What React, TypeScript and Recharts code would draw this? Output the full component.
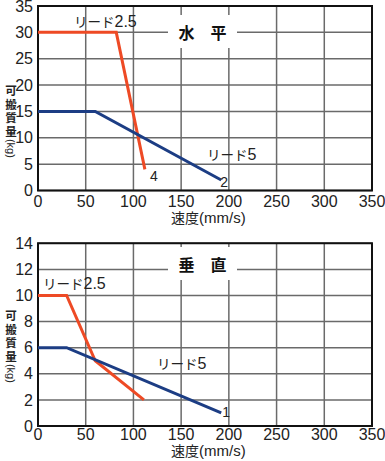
import React from 'react';
import { LineChart, Line, XAxis, YAxis, CartesianGrid, ReferenceArea } from 'recharts';

// ---- data ----
const speedTicks = [0, 50, 100, 150, 200, 250, 300, 350];
const horizontalMassTicks = [0, 5, 10, 15, 20, 25, 30, 35];
const verticalMassTicks = [0, 2, 4, 6, 8, 10, 12, 14];

const hLead25Speed = [0, 82, 112];
const hLead25Mass = [30, 30, 4];
const hLead5Speed = [0, 60, 192];
const hLead5Mass = [15, 15, 2];

const vLead25Speed = [0, 30, 60, 111];
const vLead25Mass = [10, 10, 5, 2];
const vLead5Speed = [0, 30, 192];
const vLead5Mass = [6, 6, 1];

const yLabelChars = ['可', '搬', '質', '量'];

const ORANGE = '#ee4a25';
const BLUE = '#1c3d84';
const GRID = '#6a6a6a';
const NUM_FONT = "'Liberation Sans Narrow', 'Liberation Sans', Arial, sans-serif";
const JP_FONT = "'Noto Sans CJK JP', 'Noto Sans', sans-serif";

const zip = (xs: number[], ys: number[]) => xs.map((x, i) => ({ speed: x, mass: ys[i] }));

type Series = {
  name: string;
  speed: number[];
  mass: number[];
  color: string;
  endLabel?: { dx: number; dy: number };
};

const endLabelRenderer = (count: number, off?: { dx: number; dy: number }) => (p: any) => {
  if (!off || p.index !== count - 1) return <g key={`l${p.index}`} />;
  return (
    <text
      key={`l${p.index}`}
      x={p.x + off.dx}
      y={p.y + off.dy}
      fontSize={14}
      fontFamily={NUM_FONT}
      fill="#222"
      dominantBaseline="central"
    >
      {p.value}
    </text>
  );
};

type PanelProps = {
  top: number;
  height: number;
  plotTop: number;
  xAxisHeight: number;
  xTickMargin: number;
  yMax: number;
  yTicks: number[];
  series: Series[];
};

function Panel({ top, height, plotTop, xAxisHeight, xTickMargin, yMax, yTicks, series }: PanelProps) {
  return (
    <div style={{ position: 'absolute', left: 0, top, width: 385, height }}>
      <LineChart width={385} height={height} margin={{ top: plotTop, right: 13, left: 0, bottom: 0 }}>
        <CartesianGrid stroke={GRID} strokeWidth={1.5} />
        <XAxis
          type="number"
          dataKey="speed"
          domain={[0, 350]}
          ticks={speedTicks}
          interval={0}
          height={xAxisHeight}
          tickSize={0}
          tickMargin={xTickMargin}
          axisLine={false}
          tick={{ fontSize: 16, fill: '#222', fontFamily: NUM_FONT }}
        />
        <YAxis
          type="number"
          domain={[0, yMax]}
          ticks={yTicks}
          interval={0}
          width={38}
          tickSize={0}
          tickMargin={5}
          axisLine={false}
          tick={{ fontSize: 16, fill: '#222', fontFamily: NUM_FONT }}
        />
        <ReferenceArea x1={0} x2={350} y1={0} y2={yMax} fill="none" stroke="#111" strokeWidth={2} />
        {series.map((s) => (
          <Line
            key={s.name}
            data={zip(s.speed, s.mass)}
            dataKey="mass"
            stroke={s.color}
            strokeWidth={3}
            dot={false}
            isAnimationActive={false}
            label={endLabelRenderer(s.speed.length, s.endLabel)}
          />
        ))}
      </LineChart>
    </div>
  );
}

const abs = (left: number, top: number, extra: React.CSSProperties = {}): React.CSSProperties => ({
  position: 'absolute',
  left,
  top,
  whiteSpace: 'nowrap',
  lineHeight: 1,
  color: '#222',
  ...extra,
});

const Y_STEP = 13.6;

function YLabel({ top }: { top: number }) {
  return (
    <svg style={{ position: 'absolute', left: 0, top, overflow: 'visible' }} width={24} height={80}>
      {yLabelChars.map((c, i) => (
        <text
          key={c}
          x={11}
          y={6 + i * Y_STEP}
          textAnchor="middle"
          dominantBaseline="central"
          fontFamily={JP_FONT}
          fontSize={11.5}
          fontWeight={700}
          fill="#222"
        >
          {c}
        </text>
      ))}
      <text
        x={0}
        y={0}
        transform={`translate(11, ${6 + 4 * Y_STEP + 4}) rotate(90)`}
        textAnchor="middle"
        dominantBaseline="central"
        fontFamily={NUM_FONT}
        fontSize={11}
        fill="#222"
      >
        (kg)
      </text>
    </svg>
  );
}

function XLabel({ top }: { top: number }) {
  return (
    <div style={abs(171, top, { fontSize: 14 })}>
      <span style={{ fontFamily: JP_FONT }}>速度</span>
      <span style={{ fontFamily: NUM_FONT, fontSize: 15 }}>(mm/s)</span>
    </div>
  );
}

function Title({ top, text }: { top: number; text: string }) {
  return (
    <div
      style={abs(168, top, {
        width: 69,
        height: 33,
        background: '#fff',
        fontFamily: JP_FONT,
        fontSize: 16,
        fontWeight: 700,
        display: 'flex',
        alignItems: 'center',
        justifyContent: 'center',
        color: '#111',
      })}
    >
      {text}
    </div>
  );
}

const leadStyle: React.CSSProperties = { fontFamily: JP_FONT, fontSize: 13.5 };

function Lead({ left, top, kana, num }: { left: number; top: number; kana: string; num: string }) {
  return (
    <div style={abs(left, top, leadStyle)}>
      <span>{kana}</span>
      <span style={{ fontFamily: NUM_FONT, fontSize: 16 }}>{num}</span>
    </div>
  );
}

export default function App() {
  return (
    <div style={{ position: 'absolute', left: 0, top: 0, width: 385, height: 461, background: '#fff' }}>
      <Panel
        top={0}
        height={230}
        plotTop={6}
        xAxisHeight={39.5}
        xTickMargin={5}
        yMax={35}
        yTicks={horizontalMassTicks}
        series={[
          { name: 'h25', speed: hLead25Speed, mass: hLead25Mass, color: ORANGE, endLabel: { dx: 5, dy: 7 } },
          { name: 'h5', speed: hLead5Speed, mass: hLead5Mass, color: BLUE, endLabel: { dx: -1, dy: 2 } },
        ]}
      />
      <Panel
        top={230}
        height={231}
        plotTop={13.3}
        xAxisHeight={35}
        xTickMargin={3}
        yMax={14}
        yTicks={verticalMassTicks}
        series={[
          { name: 'v25', speed: vLead25Speed, mass: vLead25Mass, color: ORANGE },
          { name: 'v5', speed: vLead5Speed, mass: vLead5Mass, color: BLUE, endLabel: { dx: 1, dy: -1 } },
        ]}
      />
      <Title top={15} text="水　平" />
      <Title top={247} text="垂　直" />
      <Lead left={74} top={14} kana="リード" num="2.5" />
      <Lead left={207} top={147} kana="リード" num="5" />
      <Lead left={43} top={276} kana="リード" num="2.5" />
      <Lead left={157} top={356} kana="リード" num="5" />
      <YLabel top={84} />
      <YLabel top={309} />
      <XLabel top={210} />
      <XLabel top={443} />
    </div>
  );
}
